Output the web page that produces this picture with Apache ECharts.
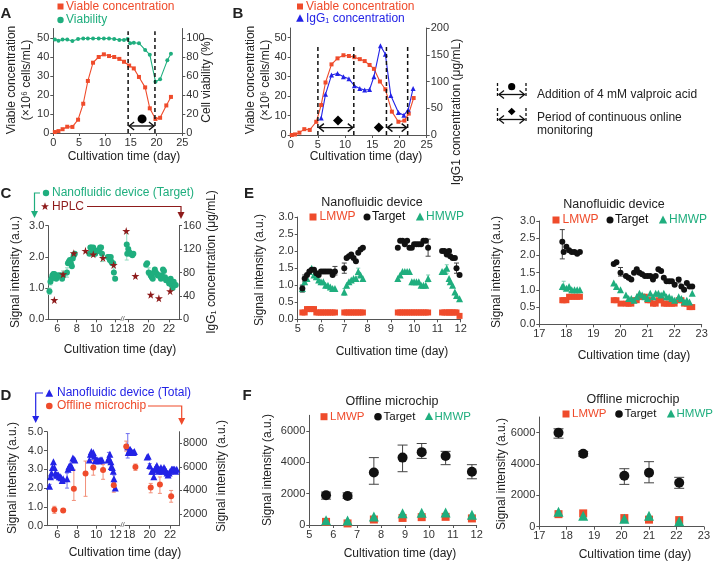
<!DOCTYPE html>
<html><head><meta charset="utf-8">
<script src="https://cdn.jsdelivr.net/npm/echarts@6/dist/echarts.min.js"></script>
<style>html,body{margin:0;padding:0;background:#fff}#c{width:713px;height:564px}</style>
</head><body><div id="c"></div>
<script>
// ---------- Panel A ----------
const aDays   = [0.3,1.0,1.8,2.7,3.7,4.8,5.8,6.7,7.7,8.8,9.8,10.8,11.8,12.8,13.7,14.7,15.6,16.6,17.8,18.7,19.8,20.7,21.9,22.8];
const aViable = [0.5,1,2,3.3,3.2,7,15.4,27.4,37,40,41.4,40.5,40,39,37.5,35.5,34,29.5,24,13,7.4,8,14.5,19];
const aViabDays = [0.3,1.0,1.8,2.7,3.7,4.8,5.8,6.7,7.7,8.8,9.8,10.8,11.8,12.8,13.7,14.4,14.9,15.6,16.6,17.8,18.7,19.8,20.7,22.1,22.8];
const aViability = [98.5,97,98.5,98.5,96.8,98.9,99.5,99.5,99.5,99.5,99.5,99.5,99,98,98,99,94.5,95,94.5,87.5,82.5,54,56.5,76.5,83.5];
const aDashDays = [14.5,19.7];
const aArrow = [[14.5,19.7]];
const aDot = [[17.2,7.4]];
// ---------- Panel B ----------
const bDays   = [0.2,0.8,1.6,2.5,3.5,4.7,5.6,6.4,7.5,8.6,9.7,10.7,11.7,12.7,13.6,14.5,15.3,16.4,17.4,18.6,19.8,20.9,21.7,22.6];
const bViable = [0,0.3,1.2,3,2.6,6.8,15.4,27,36.3,39.4,41,40.6,40,39,38,36,34,27.5,23.5,12,6.8,7.4,11,19];
const bIgGDays = [5.6,6.4,7.5,8.6,9.7,10.7,11.7,12.7,13.6,14.5,15.3,16.5,17.4,18.4,19.8,20.8,21.6,22.5];
const bIgG     = [32,76,112,115,109,105,92,87,84,85,109,167,151,74,42,37,47,87];
const bDashDays = [5.0,11.6,17.6,21.5];
const bArrows = [[5.0,11.6],[17.6,21.5]];
const bDiamonds = [[8.7,7.4],[16.2,3.9]];
// ---------- Nanofluidic online data (C, D, E) ----------
const nDays1 = [5.2,5.3,5.4,5.5,5.6,5.7,5.8,5.9,6.0,6.1,6.2,6.3,6.4,6.5,6.6, 7.0,7.1,7.2,7.3,7.4,7.5,7.6,7.7,7.8, 9.3,9.4,9.5,9.6,9.7,9.8,9.9,10.0,10.1,10.2,10.3,10.4,10.5,10.6, 11.2,11.3,11.4,11.5,11.55,11.65,11.75,11.82,11.95];
const target1 = [0.9,1.2,1.3,1.4,1.45,1.45,1.35,1.3,1.4,1.4,1.4,1.4,1.4,1.3,1.4, 1.5,1.8,1.85,1.9,1.8,1.7,1.95,2.05,2.1, 2.1,2.3,2.3,2.2,2.3,2.1,2.1,2.2,2.2,2.2,2.2,2.3,2.3,2.1, 2.0,2.0,1.9,2.0,1.85,1.8,1.8,1.5,1.3];
const hmwp1   = [0.9,1.1,1.2,1.4,1.5,1.3,1.25,1.15,1.1,1.1,1.0,1.0,0.95,0.9,0.9, 0.8,1.0,1.1,1.15,1.2,1.2,1.4,1.3,1.2, 1.2,1.3,1.4,1.4,1.4,1.4,1.1,1.1,1.1,1.1,1.0,1.0,1.0,1.2, 1.4,1.4,1.5,1.2,1.1,1.0,0.8,0.7,0.6];
const lmwp1   = [0.2,0.2,0.3,0.3,0.3,0.3,0.2,0.2,0.2,0.2,0.2,0.2,0.2,0.2,0.2, 0.2,0.2,0.2,0.2,0.2,0.2,0.2,0.2,0.2, 0.2,0.2,0.2,0.2,0.2,0.2,0.2,0.2,0.2,0.2,0.2,0.2,0.2,0.2, 0.2,0.2,0.2,0.2,0.2,0.2,0.2,0.2,0.1];
const total1  = [2.1,2.6,2.8,3.1,3.4,3.1,2.8,2.7,2.7,2.7,2.6,2.6,2.55,2.4,2.5, 2.5,3.0,3.15,3.2,3.2,3.1,3.6,3.55,3.5, 3.5,3.8,3.95,3.8,3.9,3.7,3.45,3.5,3.5,3.45,3.45,3.5,3.5,3.5, 3.5,3.6,3.8,3.4,3.15,3.1,2.9,2.5,2.0];
const nDays2 = [17.85,17.9,18.0,18.1,18.2,18.3,18.4,18.5, 19.75,19.85,20.0,20.2,20.3,20.4,20.5,20.6,20.7,20.8,20.9,21.0,21.1,21.2,21.3,21.4,21.5,21.6,21.7,21.8,21.9,22.0,22.15,22.25,22.35,22.45,22.55,22.65];
const target2 = [2.4,2.1,2.25,2.15,2.1,2.1,2.05,2.1, 1.75,1.8,1.5,1.4,1.35,1.3,1.5,1.6,1.5,1.45,1.4,1.4,1.4,1.3,1.4,1.6,1.55,1.35,1.25,1.25,1.25,1.15,1.3,1.1,1.0,1.2,1.1,1.1];
const hmwp2   = [1.1,1.1,1.05,1.1,1.0,1.0,1.0,1.0, 1.2,1.1,1.0,0.85,0.75,0.75,0.7,0.8,0.9,0.85,0.8,0.75,0.9,0.8,0.9,0.9,0.85,0.9,0.8,0.8,0.75,0.7,0.8,0.75,0.65,0.7,0.65,0.9];
const lmwp2   = [0.7,0.7,0.7,0.8,0.8,0.8,0.8,0.8, 0.7,0.7,0.6,0.6,0.6,0.6,0.7,0.7,0.8,0.8,0.8,0.7,0.7,0.6,0.6,0.7,0.7,0.6,0.6,0.6,0.6,0.6,0.7,0.7,0.6,0.6,0.5,0.5];
const total2  = [4.2,3.9,4.0,4.05,3.95,3.9,3.9,3.95, 3.65,3.7,3.2,2.9,2.9,2.6,3.0,3.1,3.2,3.0,2.9,3.0,3.1,2.9,3.0,3.1,3.0,2.9,2.8,2.7,2.8,2.9,3.0,3.0,3.0,3.0,2.9,3.0];
const tgtErrDays = [5.2,5.3,6.6,7.0,10.6,11.82,17.85,20.0,22.15];
const tgtErrLo   = [0.8,1.1,1.3,1.35,1.85,1.35,1.9,1.4,1.2];
const tgtErrHi   = [1.0,1.3,1.55,1.65,2.35,1.65,2.75,1.65,1.35];
const hmErrDays = [5.2,7.0,7.6,10.6,11.4,17.9];
const hmErrLo   = [0.8,0.7,1.25,1.1,1.35,1.0];
const hmErrHi   = [1.0,0.9,1.5,1.3,1.6,1.25];
const totErrDays = [5.2,6.6,7.0,11.3,11.82,17.85,18.0,20.0];
const totErrLo   = [2.0,2.3,2.0,3.6,2.3,3.6,3.8,3.0];
const totErrHi   = [2.2,2.5,2.8,3.9,2.7,4.9,4.1,3.3];
// ---------- HPLC (C) ----------
const hplcDays = [5.7,6.6,7.7,8.9,9.7,10.7,11.8,17.8,18.7,20.2,21.0,22.1];
const hplcIgG  = [33,77,113,117,111,105,93,151,74,42,36,48];
// ---------- Offline microchip (D, F) ----------
const offDays     = [5.7,6.6,7.7,8.9,9.7,10.7,11.8,17.7,18.6,20.1,21.0,22.1];
const offTotal    = [2350,2300,4150,5450,5950,5750,4450,7750,6000,4250,4500,3500];
const offTotalLo  = [2050,2150,3150,3500,5300,4950,3850,7350,5700,3800,3750,3000];
const offTotalHi  = [2650,2450,5750,6500,6550,6200,4900,8200,6250,4600,5150,4000];
const offTarget   = [1900,1850,3350,4300,4650,4400,3400,6000,4650,3250,3450,2800];
const offTargetLo = [1650,1700,2600,3400,4250,3850,2950,5650,4500,2700,2800,2450];
const offTargetHi = [2100,2050,4300,5100,5200,4700,3850,6250,4800,3700,4150,3150];
const offLMWP     = [200,100,350,450,500,520,420,800,850,550,450,420];
const offHMWP     = [300,280,550,750,780,800,650,950,700,500,700,350];
// ---------- tick labels ----------
const ticksAB_x = [0,5,10,15,20,25];
const ticksA_yL = [0,10,20,30,40,50];
const ticksA_yR = [0,20,40,60,80,100];
const ticksB_yR = [0,50,100,150,200];
const ticksCD_x1 = [6,8,10,12];
const ticksCD_x2 = [18,20,22];
const ticksC_yL = [0,1,2,3];
const ticksC_yR = [0,40,80,120,160];
const ticksD_yL = [0,1,2,3,4,5];
const ticksD_yR = [2000,4000,6000,8000];
const ticksE_x1 = [5,6,7,8,9,10,11,12];
const ticksE_x2 = [17,18,19,20,21,22,23];
const ticksE_y = [0,0.5,1,1.5,2,2.5,3];
const ticksF_y = [0,2000,4000,6000];

const FONT = '"Liberation Sans", Arial, Helvetica, sans-serif';
const RED = '#ef4b2b', GREEN = '#1fae7e', BLUE = '#2323e6', DARKRED = '#8e1b1b', BLACK = '#111111', AX = '#555555';
const LGREEN = '#8fdcbf';

const zip = (xs, ys) => xs.map((x, i) => [x, ys[i]]);
function part(xs, cols, lo, hi) {
  const out = [];
  xs.forEach((x, i) => { if (x >= lo && x <= hi) out.push([x].concat(cols.map(c => c[i]))); });
  return out;
}
const f0 = v => String(v);
const f1 = v => Number(v).toFixed(1);
function axis(grid, min, max, labels, pos, fmt) {
  const a = {type: 'value', gridIndex: grid, min: min, max: max, splitLine: {show: false},
    axisLine: {show: true, onZero: false, lineStyle: {color: AX, width: 1}},
    axisTick: {show: true, length: 3, customValues: labels, lineStyle: {color: AX}},
    axisLabel: {show: true, customValues: labels, fontSize: 11, color: '#333', margin: 4, fontFamily: FONT, formatter: fmt || f0}};
  if (pos) a.position = pos;
  return a;
}
function hidden(grid, min, max, pos) {
  return {type: 'value', gridIndex: grid, min: min, max: max, show: false, position: pos, splitLine: {show: false}};
}

const grids = [
  {left: 53.3, top: 28.5, width: 129, height: 104.5},
  {left: 290.7, top: 28, width: 136, height: 107},
  {left: 48.3, top: 225.7, width: 72, height: 93.6},
  {left: 125, top: 225.7, width: 54, height: 93.6},
  {left: 47, top: 431.7, width: 73, height: 94},
  {left: 125, top: 431.7, width: 54, height: 94},
  {left: 297.7, top: 217, width: 163, height: 102.3},
  {left: 539.3, top: 221, width: 162.4, height: 103.3},
  {left: 309.3, top: 415.3, width: 167.4, height: 109.7},
  {left: 539.3, top: 417, width: 166.4, height: 109.7}
];
const xAxes = [
  axis(0, 0, 25, ticksAB_x),
  axis(1, 0, 25, ticksAB_x),
  axis(2, 5.08, 12.48, ticksCD_x1),
  axis(3, 17.68, 22.97, ticksCD_x2),
  axis(4, 4.94, 12.44, ticksCD_x1),
  axis(5, 17.58, 22.87, ticksCD_x2),
  axis(6, 5, 12, ticksE_x1),
  axis(7, 17, 23, ticksE_x2),
  axis(8, 5, 12, ticksE_x1),
  axis(9, 17, 23, ticksE_x2)
];
const yAxes = [
  axis(0, 0, 55, ticksA_yL, 'left'),
  axis(0, 0, 110, ticksA_yR, 'right'),
  axis(1, 0, 55, ticksA_yL, 'left'),
  axis(1, 0, 200, ticksB_yR, 'right'),
  axis(2, 0, 3, ticksC_yL, 'left', f1),
  hidden(2, 0, 160, 'right'),
  hidden(3, 0, 3, 'left'),
  axis(3, 0, 160, ticksC_yR, 'right'),
  axis(4, 0, 5, ticksD_yL, 'left', f1),
  hidden(4, 1000, 9000, 'right'),
  hidden(5, 0, 5, 'left'),
  axis(5, 1000, 9000, ticksD_yR, 'right'),
  axis(6, 0, 3, ticksE_y, 'left', f1),
  axis(7, 0, 3, ticksE_y, 'left', f1),
  axis(8, 0, 7000, ticksF_y, 'left'),
  axis(9, 0, 7000, ticksF_y, 'left')
];

const series = [];
function line(xi, yi, data, symbol, size, color) {
  series.push({type: 'line', xAxisIndex: xi, yAxisIndex: yi, data: data, symbol: symbol, symbolSize: size,
    showSymbol: true, itemStyle: {color: color}, lineStyle: {color: color, width: 1.1}, z: 3, silent: true, animation: false});
}
function scat(xi, yi, data, symbol, size, color, z) {
  series.push({type: 'scatter', xAxisIndex: xi, yAxisIndex: yi, data: data, symbol: symbol, symbolSize: size,
    itemStyle: {color: color, opacity: 1}, z: z || 3, silent: true, animation: false});
}
function errs(xi, yi, data, color, cap, z) {
  series.push({type: 'custom', xAxisIndex: xi, yAxisIndex: yi, data: data, z: z || 2, silent: true, animation: false,
    renderItem: function (p, api) {
      const x = api.value(0);
      const a = api.coord([x, api.value(1)]), b = api.coord([x, api.value(2)]);
      const st = {stroke: color, lineWidth: 1};
      const ch = [{type: 'line', shape: {x1: a[0], y1: a[1], x2: b[0], y2: b[1]}, style: st}];
      if (cap) {
        ch.push({type: 'line', shape: {x1: a[0] - cap, y1: a[1], x2: a[0] + cap, y2: a[1]}, style: st});
        ch.push({type: 'line', shape: {x1: b[0] - cap, y1: b[1], x2: b[0] + cap, y2: b[1]}, style: st});
      }
      return {type: 'group', children: ch};
    }});
}
function vdash(xi, yi, xs, y0, y1) {
  series.push({type: 'custom', xAxisIndex: xi, yAxisIndex: yi, data: xs.map(x => [x, y0, y1]), z: 4, silent: true, animation: false,
    renderItem: function (p, api) {
      const a = api.coord([api.value(0), api.value(1)]), b = api.coord([api.value(0), api.value(2)]);
      return {type: 'line', shape: {x1: a[0], y1: a[1], x2: b[0], y2: b[1]}, style: {stroke: '#111', lineWidth: 1.5, lineDash: [4, 3]}};
    }});
}
function arrows(xi, yi, pairs, y) {
  series.push({type: 'custom', xAxisIndex: xi, yAxisIndex: yi, data: pairs.map(p => [p[0], p[1], y]), z: 4, silent: true, animation: false,
    renderItem: function (p, api) {
      const a = api.coord([api.value(0), api.value(2)]), b = api.coord([api.value(1), api.value(2)]);
      const st = {stroke: '#111', lineWidth: 1.4, fill: null};
      return {type: 'group', children: [
        {type: 'line', shape: {x1: a[0] + 1, y1: a[1], x2: b[0] - 1, y2: b[1]}, style: st},
        {type: 'polyline', shape: {points: [[a[0] + 6, a[1] - 4], [a[0] + 1, a[1]], [a[0] + 6, a[1] + 4]]}, style: st},
        {type: 'polyline', shape: {points: [[b[0] - 6, b[1] - 4], [b[0] - 1, b[1]], [b[0] - 6, b[1] + 4]]}, style: st}
      ]};
    }});
}
const STAR = 'path://M50,0 L61,35 L98,35 L68,57 L79,91 L50,70 L21,91 L32,57 L2,35 L39,35 Z';

// Panel A
line(0, 0, zip(aDays, aViable), 'rect', 4, RED);
line(0, 1, zip(aViabDays, aViability), 'circle', 4, GREEN);
vdash(0, 0, aDashDays, 0, 53.5);
arrows(0, 0, aArrow, 3.7);
scat(0, 0, aDot, 'circle', 9, '#000', 5);
// Panel B
line(1, 2, zip(bDays, bViable), 'rect', 4, RED);
line(1, 3, zip(bIgGDays, bIgG), 'triangle', 5, BLUE);
vdash(1, 2, bDashDays, 0, 45.5);
arrows(1, 2, bArrows, 3.8);
scat(1, 2, bDiamonds, 'diamond', 10, '#000', 5);
// Panel C
errs(2, 4, part(tgtErrDays, [tgtErrLo, tgtErrHi], 0, 13), LGREEN, 2);
errs(3, 6, part(tgtErrDays, [tgtErrLo, tgtErrHi], 17, 24), LGREEN, 2);
scat(2, 4, zip(nDays1, target1), 'circle', 6, GREEN);
scat(3, 6, zip(nDays2, target2), 'circle', 6, GREEN);
scat(2, 5, part(hplcDays, [hplcIgG], 0, 13), STAR, 8, DARKRED, 4);
scat(3, 7, part(hplcDays, [hplcIgG], 17, 24), STAR, 8, DARKRED, 4);
// Panel D
errs(4, 8, part(totErrDays, [totErrLo, totErrHi], 0, 13), '#6f6ff0', 2);
errs(5, 10, part(totErrDays, [totErrLo, totErrHi], 17, 24), '#6f6ff0', 2);
scat(4, 8, zip(nDays1, total1), 'triangle', 7, BLUE);
scat(5, 10, zip(nDays2, total2), 'triangle', 7, BLUE);
errs(4, 9, part(offDays, [offTotalLo, offTotalHi], 0, 13), '#f2907a', 2);
errs(5, 11, part(offDays, [offTotalLo, offTotalHi], 17, 24), '#f2907a', 2);
scat(4, 9, part(offDays, [offTotal], 0, 13), 'circle', 6, RED, 4);
scat(5, 11, part(offDays, [offTotal], 17, 24), 'circle', 6, RED, 4);
// Panel E
scat(6, 12, zip(nDays1, lmwp1), 'rect', 6, RED);
scat(7, 13, zip(nDays2, lmwp2), 'rect', 6, RED);
errs(6, 12, part(hmErrDays, [hmErrLo, hmErrHi], 0, 13), '#7fd0b2', 2);
errs(7, 13, part(hmErrDays, [hmErrLo, hmErrHi], 17, 24), '#7fd0b2', 2);
scat(6, 12, zip(nDays1, hmwp1), 'triangle', 7, GREEN);
scat(7, 13, zip(nDays2, hmwp2), 'triangle', 7, GREEN);
errs(6, 12, part(tgtErrDays, [tgtErrLo, tgtErrHi], 0, 13), '#444', 2.5);
errs(7, 13, part(tgtErrDays, [tgtErrLo, tgtErrHi], 17, 24), '#444', 2.5);
scat(6, 12, zip(nDays1, target1), 'circle', 6, BLACK, 4);
scat(7, 13, zip(nDays2, target2), 'circle', 6, BLACK, 4);
// Panel F
scat(8, 14, part(offDays, [offLMWP], 0, 13), 'rect', 8, RED);
scat(9, 15, part(offDays, [offLMWP], 17, 24), 'rect', 8, RED);
scat(8, 14, part(offDays, [offHMWP], 0, 13), 'triangle', 10, GREEN);
scat(9, 15, part(offDays, [offHMWP], 17, 24), 'triangle', 10, GREEN);
errs(8, 14, part(offDays, [offTargetLo, offTargetHi], 0, 13), '#444', 5);
errs(9, 15, part(offDays, [offTargetLo, offTargetHi], 17, 24), '#444', 5);
scat(8, 14, part(offDays, [offTarget], 0, 13), 'circle', 10, BLACK, 4);
scat(9, 15, part(offDays, [offTarget], 17, 24), 'circle', 10, BLACK, 4);

// ---------- graphic text & legends ----------
const G = [];
function T(x, y, text, o) {
  o = o || {};
  G.push({type: 'text', x: x, y: y, rotation: o.rot || 0, z: 100, silent: true,
    style: {text: text, fill: o.color || '#222', fontFamily: FONT, fontSize: o.size || 12, fontWeight: o.bold ? 'bold' : 'normal',
      align: o.align || 'left', verticalAlign: 'middle', lineHeight: o.lh || 14}});
}
const R90 = Math.PI / 2;
function sq(x, y, s, c) { G.push({type: 'rect', shape: {x: x - s / 2, y: y - s / 2, width: s, height: s}, style: {fill: c}, z: 100, silent: true}); }
function dot(x, y, r, c) { G.push({type: 'circle', shape: {cx: x, cy: y, r: r}, style: {fill: c}, z: 100, silent: true}); }
function tri(x, y, s, c) { G.push({type: 'polygon', shape: {points: [[x, y - s * 0.6], [x + s * 0.55, y + s * 0.45], [x - s * 0.55, y + s * 0.45]]}, style: {fill: c}, z: 100, silent: true}); }
function dia(x, y, s, c) { G.push({type: 'polygon', shape: {points: [[x, y - s], [x + s, y], [x, y + s], [x - s, y]]}, style: {fill: c}, z: 100, silent: true}); }
function pl(points, c, w, dash) { G.push({type: 'polyline', shape: {points: points}, style: {stroke: c, lineWidth: w || 1.2, fill: null, lineDash: dash || null}, z: 100, silent: true}); }
function head(x, y, c) { G.push({type: 'polygon', shape: {points: [[x - 3.5, y - 7], [x + 3.5, y - 7], [x, y]]}, style: {fill: c}, z: 100, silent: true}); }
function star(x, y, s, c) {
  const pts = [];
  for (let i = 0; i < 10; i++) { const r = i % 2 ? s * 0.4 : s; const a = -Math.PI / 2 + i * Math.PI / 5; pts.push([x + r * Math.cos(a), y + r * Math.sin(a)]); }
  G.push({type: 'polygon', shape: {points: pts}, style: {fill: c}, z: 100, silent: true});
}

// panel letters
T(6, 14, 'A', {bold: true, size: 15, align: 'center'});
T(238, 14, 'B', {bold: true, size: 15, align: 'center'});
T(6, 194, 'C', {bold: true, size: 15, align: 'center'});
T(249, 194, 'E', {bold: true, size: 15, align: 'center'});
T(6, 396, 'D', {bold: true, size: 15, align: 'center'});
T(247, 396, 'F', {bold: true, size: 15, align: 'center'});

// A legend/titles
sq(60.5, 6.5, 6, RED); T(66, 6.5, 'Viable concentration', {color: RED});
dot(60.5, 20, 3.2, GREEN); T(66, 20, 'Viability', {color: GREEN});
T(19, 80, 'Viable concentration\n(×10⁶ cells/mL)', {rot: R90, align: 'center', lh: 15});
T(207, 80, 'Cell viability (%)', {rot: R90, align: 'center'});
T(124, 157, 'Cultivation time (day)', {align: 'center'});
// B legend/titles
sq(300, 6.5, 6, RED); T(306, 6.5, 'Viable concentration', {color: RED});
tri(300, 18.5, 7, BLUE); T(306, 18.5, 'IgG₁ concentration', {color: BLUE});
T(258, 80, 'Viable concentration\n(×10⁶ cells/mL)', {rot: R90, align: 'center', lh: 15});
T(457, 112, 'IgG1 concentration (μg/mL)', {rot: R90, align: 'center'});
T(366, 157, 'Cultivation time (day)', {align: 'center'});
// key on the right
pl([[497.5, 83], [497.5, 98]], '#111', 1.3, [3, 2]); pl([[526, 83], [526, 98]], '#111', 1.3, [3, 2]);
pl([[499, 94.5], [524.5, 94.5]], '#111', 1.3); pl([[504, 90.5], [499, 94.5], [504, 98.5]], '#111', 1.3); pl([[519.5, 90.5], [524.5, 94.5], [519.5, 98.5]], '#111', 1.3);
dot(511.7, 86.7, 3.6, '#000');
T(537, 94.5, 'Addition of 4 mM valproic acid', {size: 12});
pl([[497.5, 108], [497.5, 123]], '#111', 1.3, [3, 2]); pl([[526, 108], [526, 123]], '#111', 1.3, [3, 2]);
pl([[499, 119.5], [524.5, 119.5]], '#111', 1.3); pl([[504, 115.5], [499, 119.5], [504, 123.5]], '#111', 1.3); pl([[519.5, 115.5], [524.5, 119.5], [519.5, 123.5]], '#111', 1.3);
dia(511.7, 111.5, 3.8, '#000');
T(537, 117.5, 'Period of continuous online', {size: 12});
T(537, 131, 'monitoring', {size: 12});

// C legend/titles
pl([[40, 193], [34.5, 193], [34.5, 212]], GREEN, 1.2); head(34.5, 218, GREEN);
dot(46, 193, 3.2, GREEN); T(52, 193, 'Nanofluidic device (Target)', {color: GREEN});
star(45, 206.5, 4.2, DARKRED); T(52, 206.5, 'HPLC', {color: DARKRED});
pl([[87, 206.5], [181, 206.5], [181, 213]], DARKRED, 1.2); head(181, 219, DARKRED);
T(16, 272, 'Signal intensity (a.u.)', {rot: R90, align: 'center'});
T(212, 262, 'IgG₁ concentration (μg/mL)', {rot: R90, align: 'center'});
T(120, 350, 'Cultivation time (day)', {align: 'center'});
T(122.6, 318.5, '//', {align: 'center', size: 8, color: '#555'});
// D legend/titles
pl([[43, 393], [35.7, 393], [35.7, 417]], BLUE, 1.2); head(35.7, 423, BLUE);
tri(49.3, 393.5, 7, BLUE); T(57, 393, 'Nanofluidic device (Total)', {color: BLUE});
dot(49.3, 406, 3.3, RED); T(57, 406, 'Offline microchip', {color: RED});
pl([[148, 406], [181.7, 406], [181.7, 419]], RED, 1.2); head(181.7, 425, RED);
T(13, 478, 'Signal intensity (a.u.)', {rot: R90, align: 'center'});
T(221.7, 476, 'Signal intensity (a.u.)', {rot: R90, align: 'center'});
T(125, 553, 'Cultivation time (day)', {align: 'center'});
T(122.6, 525, '//', {align: 'center', size: 8, color: '#555'});
// E
T(372, 203, 'Nanofluidic device', {align: 'center', size: 12.5});
sq(313, 217, 7, RED); T(319.5, 217, 'LMWP', {color: RED, size: 12});
dot(367, 217, 3.5, BLACK); T(372, 217, 'Target', {color: BLACK, size: 12});
tri(420, 217, 7.5, GREEN); T(426, 217, 'HMWP', {color: GREEN, size: 12});
T(260, 270, 'Signal intensity (a.u.)', {rot: R90, align: 'center'});
T(392, 352, 'Cultivation time (day)', {align: 'center'});
T(614, 205, 'Nanofluidic device', {align: 'center', size: 12.5});
sq(556, 220, 7, RED); T(562.5, 220, 'LMWP', {color: RED, size: 12});
dot(610, 220, 3.5, BLACK); T(615, 220, 'Target', {color: BLACK, size: 12});
tri(663, 220, 7.5, GREEN); T(669, 220, 'HMWP', {color: GREEN, size: 12});
T(497, 272, 'Signal intensity (a.u.)', {rot: R90, align: 'center'});
T(634, 356, 'Cultivation time (day)', {align: 'center'});
// F
T(392, 402, 'Offline microchip', {align: 'center', size: 12.5});
sq(324, 416.7, 7, RED); T(330, 416.7, 'LMWP', {color: RED, size: 11.5});
dot(378, 416.7, 3.8, BLACK); T(383.5, 416.7, 'Target', {color: BLACK, size: 11.5});
tri(429, 416.7, 7.5, GREEN); T(434.5, 416.7, 'HMWP', {color: GREEN, size: 11.5});
T(268, 470, 'Signal intensity (a.u.)', {rot: R90, align: 'center'});
T(400, 554, 'Cultivation time (day)', {align: 'center'});
T(633, 400, 'Offline microchip', {align: 'center', size: 12.5});
sq(566, 414, 7, RED); T(572, 414, 'LMWP', {color: RED, size: 11.5});
dot(619, 414, 3.8, BLACK); T(624.5, 414, 'Target', {color: BLACK, size: 11.5});
tri(671, 414, 7.5, GREEN); T(676.5, 414, 'HMWP', {color: GREEN, size: 11.5});
T(501.7, 474, 'Signal intensity (a.u.)', {rot: R90, align: 'center'});
T(635, 555, 'Cultivation time (day)', {align: 'center'});

const chart = echarts.init(document.getElementById('c'), null, {renderer: 'canvas'});
chart.setOption({
  animation: false,
  backgroundColor: '#ffffff',
  textStyle: {fontFamily: FONT},
  grid: grids,
  xAxis: xAxes,
  yAxis: yAxes,
  series: series,
  graphic: {elements: G}
});
</script></body></html>
